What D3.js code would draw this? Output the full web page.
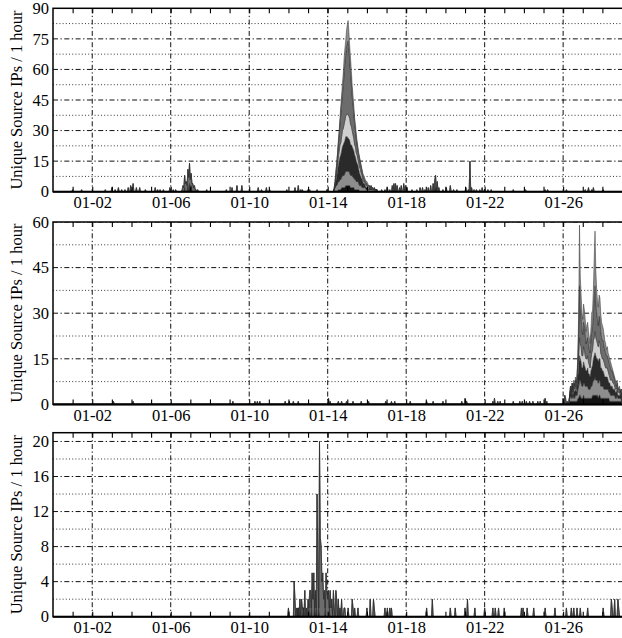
<!DOCTYPE html>
<html>
<head>
<meta charset="utf-8">
<script src="https://cdn.jsdelivr.net/npm/d3@7"></script>
<style>
  html, body { margin: 0; padding: 0; background: #fff; }
  svg { display: block; }
</style>
</head>
<body>
<svg id="chart" width="622" height="638"></svg>
<script>
// ---- time base: hourly bins from 12-31 00:00 to 01-29 00:00 ----
const HOURS = 696;
const dateLabels = ["01-02", "01-06", "01-10", "01-14", "01-18", "01-22", "01-26"];
const yTitle = "Unique Source IPs / 1 hour";

// stacked layer fills, bottom to top
const layerFills = ["#141414", "#8d8d8d", "#2a2a2a", "#cfcfcf", "#6c6c6c", "#8f8f8f"];

// ---- panel 1 ----
const p1Major = [0, 15, 30, 45, 60, 75, 90];
const p1Minor = [7.5, 22.5, 37.5, 52.5, 67.5, 82.5];
// isolated activity: [hour, count, layer (default 4)]
const p1Blips = [
  [24,1],[35,1],[64,1],[72,2],[76,1],[80,2],[84,1],[88,1],[92,2],[95,3],[98,4],[102,2],[106,2],
  [113,1],[125,2],[128,1],[131,1],[135,1],[143,2],[147,1],[150,1],
  [158,1],[159,3],[160,2],[161,6],[161,2,2],[162,4],[163,5],[164,3],[165,8],[165,3,2],[166,7],
  [167,10],[167,4,2],[168,4],[168,2,2],[169,6],[169,3,2],[170,4],[171,4],[172,2],[173,3],[174,1],
  [175,1],[177,1],[188,1],[212,1],[219,2],[225,3],[231,3],[251,2],[255,1],[261,2],[265,1],[286,1],
  [296,2],[300,3],[303,1],[305,1],[312,1],[314,1],[323,1],[335,1],
  [402,1],[406,1],[409,2],[412,1],[415,3],[417,4],[419,4],[421,3],[424,2],[426,3],[429,4],[431,3],
  [433,2],[439,1],[445,1],[449,2],[452,2],[455,1],[459,2],[462,3],[465,4],[467,6],[468,6],[468,2,2],
  [470,5],[472,2],[477,1],[481,2],[486,3],[490,1],[494,1],[505,2],[508,1],[510,15],[512,2],[515,1],
  [518,1],[522,1],[525,2],[528,1],[532,1],[536,1],[563,1],[578,1],[602,1],[605,1],[628,1],[651,1],
  [655,2],[659,1],[661,2],[673,1]
];
// burst of 01-14/01-15, hourly from hour 344
const p1BurstStart = 344;
const p1Burst = [
  [0,0,0,0,0,1,1,1,1,2,2,2,2,2,3,3,3,3,3,3,2,2,2,2,2,1,1,1,1,1,1,0,0,0,0,0,0,0,0,0,0,0,0,0,0,0,0,0,0,0,0,0,0],
  [1,2,3,3,4,4,4,5,5,5,6,6,6,7,7,7,7,7,7,6,6,6,6,5,5,5,5,4,4,4,3,3,3,3,2,2,2,2,2,1,1,1,1,1,1,1,1,1,1,1,1,0,1],
  [0,1,2,4,6,8,10,11,12,13,14,15,16,16,17,17,17,16,16,16,15,15,14,14,13,12,11,10,9,8,7,6,5,4,4,3,2,2,1,1,1,1,0,1,0,1,0,0,0,0,0,0,0],
  [0,0,1,2,3,4,5,6,6,7,8,8,9,10,10,11,11,12,11,11,10,9,8,7,6,5,5,4,4,3,3,3,3,2,2,1,1,1,1,1,1,0,1,0,0,0,0,0,0,0,0,0,0],
  [1,2,3,4,5,6,8,10,14,16,18,21,25,28,30,33,35,36,33,28,25,21,17,15,12,10,8,7,5,4,4,4,3,3,2,2,2,1,1,1,1,1,1,1,1,1,1,1,0,1,0,1,0],
  [0,0,1,1,1,2,2,3,4,4,5,6,7,7,7,8,9,10,8,7,7,6,5,4,4,3,3,2,2,2,1,1,1,1,1,1,1,1,1,1,1,1,0,0,0,0,0,0,0,0,0,0,0]
];

// ---- panel 2 ----
const p2Major = [0, 15, 30, 45, 60];
const p2Minor = [7.5, 22.5, 37.5, 52.5];
const p2Blips = [
  [74,1],[98,1],[220,1],[247,1],[250,1],[253,1],[284,1],[289,1],[294,1],[300,1],[337,2],[339,1],
  [349,1],[353,1],[359,1],[367,1],[377,1],[386,1],[407,1],[414,1],[418,1],[437,1],[457,1],[465,1],
  [477,1],[500,1],[504,2],[506,1],[538,1],[540,2],[544,1],[547,1],[563,1],[571,1],[574,1],[579,1],
  [583,1],[587,1],[593,1],[596,1],[602,2],[604,1],[624,2],[626,3],[627,2],[629,1]
];
// burst of 01-26 .. 01-28, hourly from hour 632
const p2BurstStart = 632;
const p2Burst = [
  [1,1,1,1,1,1,1,1,1,1,2,2,3,3,2,2,2,3,2,2,2,2,2,2,2,2,2,2,3,3,3,3,3,3,3,2,3,3,2,2,2,2,2,2,2,2,2,2,2,1,1,1,1,1,1,1,1,1,1,1,1,1,1,1],
  [1,2,1,2,1,2,1,2,2,2,3,4,5,5,5,4,4,4,5,4,4,4,4,3,3,3,4,4,4,5,5,6,5,5,5,5,5,5,4,4,4,4,3,3,3,3,3,3,2,3,2,2,2,2,2,2,1,1,2,1,1,1,1,1],
  [1,1,1,2,1,2,2,2,1,3,4,6,8,7,7,6,6,7,6,6,5,5,6,5,5,4,5,6,6,7,8,8,8,7,7,7,7,7,6,6,5,5,5,4,4,4,4,3,3,3,3,3,3,2,2,2,2,2,2,1,1,1,1,1],
  [0,1,0,1,1,1,1,1,1,1,2,4,6,5,5,4,4,5,5,4,4,4,4,4,3,3,4,5,5,6,6,7,6,6,5,5,6,5,5,4,4,4,4,4,3,3,3,3,3,2,2,2,2,2,2,1,1,1,1,1,1,1,0,1],
  [0,1,1,1,1,1,1,2,1,2,3,8,17,12,10,8,7,8,8,7,5,6,6,6,5,5,6,7,8,9,13,15,12,9,8,7,8,8,7,6,6,6,5,5,5,4,4,4,4,4,4,3,3,3,2,2,2,1,1,1,1,1,1,1],
  [0,0,0,0,0,1,0,1,1,1,2,6,20,10,7,6,5,6,5,5,4,5,5,4,4,3,4,6,5,8,13,18,10,8,6,6,7,7,6,5,5,4,4,3,3,2,3,2,2,2,2,2,1,1,1,1,1,1,1,1,0,1,0,0]
];

// ---- panel 3 ----
const p3Major = [0, 4, 8, 12, 16, 20];
const p3Minor = [2, 6, 10, 14, 18];
const p3Blips = [
  [288,1],[295,4],[296,2],[298,1],[300,1,0],[302,2],[304,2],[305,1],[306,1,0],[308,3],[310,1],
  [312,2],[313,1,0],[314,3],[315,3],[316,1,0],[317,5],[318,2],[319,5],[320,1,0],[321,3],[322,1,0],
  [323,14],[324,6],[325,1,0],[326,20],[327,9],[328,8],[329,4],[330,5],[331,2],[332,3],[333,1,0],
  [334,5],[335,3],[336,2],[337,3],[338,1,0],[339,3],[340,1],[341,2],[343,3],[344,1],[346,3],[347,2],
  [349,2],[351,1],[353,2],[356,1],[357,1],[361,1],[366,2],[367,1],[369,1],[373,1],[384,1],[388,2],
  [392,2],[393,1],[406,1],[409,1],[412,1],[414,1],[457,1],[464,2],[486,1],[492,1],[504,1],[507,2],
  [516,1],[528,1],[538,1],[541,1],[545,1],[552,1],[573,1],[575,1],[580,1],[588,1],[602,1],[614,1],
  [628,1],[634,1],[637,1],[641,1],[645,1],[654,1],[673,1],[683,2],[684,1],[687,2],[691,2],[692,1]
];

// ---- layout ----
const LEFT = 53, RIGHT = 622;
const panels = [
  { top: 8.3,   bottom: 191.7, yMax: 90, major: p1Major, minor: p1Minor, blips: p1Blips, burstStart: p1BurstStart, burst: p1Burst },
  { top: 222.0, bottom: 404.4, yMax: 60, major: p2Major, minor: p2Minor, blips: p2Blips, burstStart: p2BurstStart, burst: p2Burst },
  { top: 432.7, bottom: 616.7, yMax: 21, major: p3Major, minor: p3Minor, blips: p3Blips, burstStart: 0, burst: [] }
];

const FONT = "'Liberation Serif','Times New Roman',Times,serif";
const HOUR = 3600e3;
const t0 = Date.UTC(2008, 11, 31);
const hourDate = h => new Date(t0 + h * HOUR);
const labelDates = dateLabels.map(s => { const [m, d] = s.split("-").map(Number); return new Date(Date.UTC(2009, m - 1, d)); });
const dayDates = d3.range(1, 29).map(d => new Date(t0 + d * 24 * HOUR));

const x = d3.scaleUtc().domain([hourDate(0), hourDate(HOURS)]).range([LEFT, RIGHT]);
const keys = layerFills.map((_, i) => "l" + i);
const svg = d3.select("#chart");

function buildRows(p) {
  const rows = d3.range(HOURS + 1).map(h => { const r = { h }; keys.forEach(k => r[k] = 0); return r; });
  p.blips.forEach(([h, v, layer]) => { rows[h]["l" + (layer === undefined ? 4 : layer)] += v; });
  p.burst.forEach((series, li) => series.forEach((v, j) => { rows[p.burstStart + j]["l" + li] += v; }));
  return rows;
}

panels.forEach((p, pi) => {
  const y = d3.scaleLinear().domain([0, p.yMax]).range([p.bottom, p.top]);
  const g = svg.append("g");
  const clipId = "clip" + pi;
  g.append("clipPath").attr("id", clipId).append("rect")
    .attr("x", LEFT).attr("y", p.top).attr("width", RIGHT - LEFT + 2).attr("height", p.bottom - p.top);

  // grid
  const grid = g.append("g").attr("clip-path", `url(#${clipId})`);
  grid.selectAll("line.minor").data(p.minor).join("line").attr("class", "minor")
    .attr("x1", LEFT).attr("x2", RIGHT).attr("y1", d => y(d)).attr("y2", d => y(d))
    .attr("stroke", "#222").attr("stroke-width", 0.9).attr("stroke-dasharray", "1,2.2");
  grid.selectAll("line.major").data(p.major.filter(v => v > 0)).join("line").attr("class", "major")
    .attr("x1", LEFT).attr("x2", RIGHT).attr("y1", d => y(d)).attr("y2", d => y(d))
    .attr("stroke", "#111").attr("stroke-width", 1).attr("stroke-dasharray", "5,2.5,1.3,2.5");
  grid.selectAll("line.vgrid").data(labelDates).join("line").attr("class", "vgrid")
    .attr("x1", d => x(d)).attr("x2", d => x(d)).attr("y1", p.top).attr("y2", p.bottom)
    .attr("stroke", "#111").attr("stroke-width", 1).attr("stroke-dasharray", "5,2.5,1.3,2.5");

  // stacked areas
  const rows = buildRows(p);
  const series = d3.stack().keys(keys)(rows);
  const area = d3.area()
    .x(d => x(hourDate(d.data.h)))
    .y0(d => y(d[0]))
    .y1(d => y(d[1]));
  g.append("g").attr("clip-path", `url(#${clipId})`)
    .selectAll("path").data(series).join("path")
    .attr("d", area)
    .attr("fill", (d, i) => layerFills[i])
    .attr("stroke", "#303030").attr("stroke-width", 0.5).attr("stroke-linejoin", "round");

  // day ticks, inward on top and bottom
  const tickB = g.append("g").attr("transform", `translate(0,${p.bottom})`)
    .call(d3.axisBottom(x).tickValues(dayDates).tickSize(-5).tickFormat(""));
  const tickT = g.append("g").attr("transform", `translate(0,${p.top})`)
    .call(d3.axisTop(x).tickValues(dayDates).tickSize(-5).tickFormat(""));
  [tickB, tickT].forEach(a => { a.select(".domain").remove(); a.selectAll("line").attr("stroke", "#000").attr("stroke-width", 1.1); });

  // date labels
  const xa = g.append("g").attr("transform", `translate(0,${p.bottom})`)
    .call(d3.axisBottom(x).tickValues(labelDates).tickFormat(d3.utcFormat("%m-%d")).tickSize(0).tickPadding(5));
  xa.select(".domain").remove();
  xa.selectAll("text").attr("font-family", FONT).attr("font-size", "16.5px").attr("fill", "#000");

  // value labels
  const ya = g.append("g").attr("transform", `translate(${LEFT},0)`)
    .call(d3.axisLeft(y).tickValues(p.major).tickFormat(d3.format("d")).tickSize(0).tickPadding(4));
  ya.select(".domain").remove();
  ya.selectAll("text").attr("font-family", FONT).attr("font-size", "16.5px").attr("fill", "#000");

  // frame
  g.append("rect").attr("x", LEFT).attr("y", p.top).attr("width", RIGHT - LEFT + 4).attr("height", p.bottom - p.top)
    .attr("fill", "none").attr("stroke", "#000").attr("stroke-width", 1.5);
  g.append("line").attr("x1", LEFT).attr("x2", RIGHT).attr("y1", p.bottom).attr("y2", p.bottom)
    .attr("stroke", "#000").attr("stroke-width", 2);

  // axis title
  g.append("text")
    .attr("transform", `translate(21.5,${(p.top + p.bottom) / 2}) rotate(-90)`)
    .attr("text-anchor", "middle")
    .attr("font-family", FONT).attr("font-size", "16.5px").attr("fill", "#000")
    .text(yTitle);
});
</script>
</body>
</html>
